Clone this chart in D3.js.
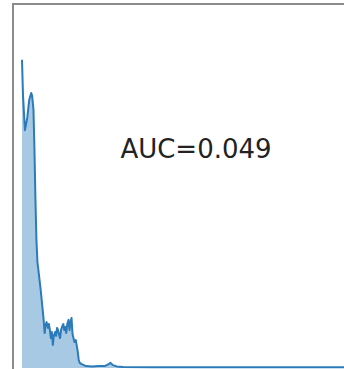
<!DOCTYPE html>
<html>
<head>
<meta charset="utf-8">
<script src="https://cdn.jsdelivr.net/npm/d3@7"></script>
<style>
  body { margin: 0; background: #fff; }
  svg { display: block; }
</style>
</head>
<body>
<svg width="344" height="369"></svg>
<script>
// score values (x) and density values (y)
const scores = [0, 0.003, 0.009, 0.016, 0.022, 0.028, 0.031, 0.035, 0.038, 0.041,
  0.044, 0.047, 0.050, 0.057, 0.063, 0.066, 0.069, 0.072, 0.075, 0.079,
  0.082, 0.085, 0.088, 0.091, 0.094, 0.097, 0.101, 0.104, 0.107, 0.110,
  0.113, 0.116, 0.119, 0.123, 0.126, 0.129, 0.132, 0.135, 0.138, 0.142,
  0.145, 0.148, 0.151, 0.154, 0.157, 0.160, 0.164, 0.167, 0.170, 0.173,
  0.176, 0.182, 0.195, 0.214, 0.233, 0.252, 0.264, 0.270, 0.277, 0.289,
  0.308, 0.40, 0.55, 0.70, 0.85, 1.0];
const density = [9.6, 8.5, 7.41, 7.79, 8.35, 8.57, 8.47, 8.04, 6.79, 5.23,
  3.99, 3.30, 3.05, 2.43, 1.81, 1.50, 1.09, 1.34, 1.43, 1.25,
  1.37, 1.18, 0.93, 1.12, 0.72, 1.00, 1.12, 1.00, 1.25, 1.18,
  1.03, 0.93, 1.18, 1.31, 1.37, 1.18, 1.28, 1.09, 1.37, 1.50,
  1.18, 1.43, 1.56, 1.06, 0.93, 0.81, 0.87, 0.69, 0.50, 0.25,
  0.16, 0.12, 0.06, 0.05, 0.06, 0.06, 0.12, 0.16, 0.09, 0.05,
  0.03, 0.02, 0.02, 0.02, 0.02, 0.02];
const aucLabel = "AUC=0.049";

const lineBlue = "#2b7bba", fillBlue = "#a8c9e4";
const data = scores.map((s, i) => ({score: s, dens: density[i]}));

const svg = d3.select("svg");
const xScale = d3.scaleLinear().domain([0, 1]).range([22, 350]);
const yScale = d3.scaleLinear().domain([0, 10]).range([368, 47]);

// filled area under the curve
const area = d3.area()
  .x(d => xScale(d.score))
  .y0(yScale(0))
  .y1(d => yScale(d.dens));
svg.append("path")
  .attr("d", area(data))
  .attr("fill", fillBlue);

// the curve itself
const line = d3.line()
  .x(d => xScale(d.score))
  .y(d => yScale(d.dens));
svg.append("path")
  .attr("d", line(data))
  .attr("fill", "none")
  .attr("stroke", lineBlue)
  .attr("stroke-width", 2)
  .attr("stroke-linejoin", "round");

// axes frame (right and bottom run past the picture)
svg.append("rect")
  .attr("x", 13)
  .attr("y", 4)
  .attr("width", 360)
  .attr("height", 380)
  .attr("fill", "none")
  .attr("stroke", "#8c8c8c")
  .attr("stroke-width", 2);

svg.append("text")
  .attr("x", 196)
  .attr("y", 158)
  .attr("text-anchor", "middle")
  .attr("font-family", "DejaVu Sans")
  .attr("font-size", 26)
  .attr("fill", "#222")
  .text(aucLabel);
</script>
</body>
</html>
